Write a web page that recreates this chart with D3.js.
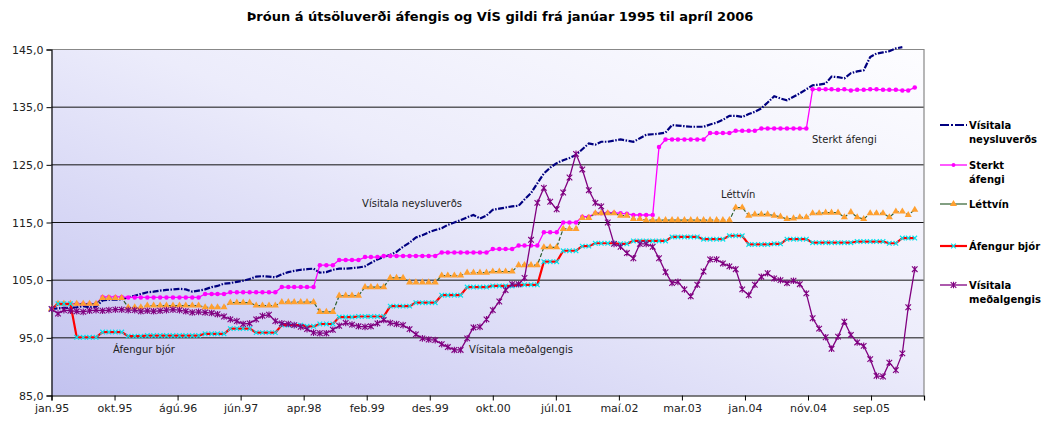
<!DOCTYPE html>
<html>
<head>
<meta charset="utf-8">
<script src="https://cdn.jsdelivr.net/npm/d3@7"></script>
<style>
  body { margin: 0; background: #fff; }
  text { font-family: "DejaVu Sans", Verdana, sans-serif; }
</style>
</head>
<body>
<script>
// Monthly values jan.95 - apr.06 (index 100 = jan.95)
var visitalaNeysluverds = [
  100.0, 100.1, 100.2, 100.2, 100.3, 100.5, 100.3, 100.4, 101.5, 101.6, 101.6, 101.7,
  102.0, 102.3, 102.6, 102.9, 103.0, 103.2, 103.3, 103.4, 103.5, 103.4, 103.0, 103.2,
  103.4, 103.8, 104.0, 104.4, 104.5, 104.7, 104.9, 105.2, 105.6, 105.7, 105.6, 105.5,
  106.0, 106.4, 106.6, 106.8, 106.9, 107.0, 106.3, 106.4, 106.8, 107.0, 107.0, 107.1,
  107.2, 107.4, 108.0, 108.6, 109.0, 109.4, 109.9, 110.8, 111.5, 112.4, 112.8, 113.3,
  113.7, 114.0, 114.6, 115.0, 115.4, 115.9, 116.3, 115.7, 116.2, 117.2, 117.4, 117.6,
  117.8, 117.9, 119.0, 120.1, 121.8, 123.5, 124.5, 125.3, 125.8, 126.2, 126.7, 127.7,
  128.7, 128.5, 129.0, 129.0, 129.2, 129.4, 129.2, 129.0, 129.6, 130.2, 130.3, 130.4,
  130.6, 131.9, 131.8, 131.7, 131.6, 131.6, 131.6, 132.0, 132.3, 132.8, 133.5, 133.5,
  133.3, 133.8, 134.2, 134.8, 135.8, 136.9, 136.5, 136.2, 136.8, 137.4, 138.1, 138.8,
  138.9, 139.1, 140.3, 140.2, 140.0, 140.9, 141.2, 141.4, 143.7, 144.3, 144.5, 144.7,
  145.2, 145.4
];

var sterktAfengi = [
  100.0, 100.9, 100.9, 100.9, 100.9, 100.9, 100.9, 100.9, 102.1, 102.1, 102.1, 102.1,
  102.0, 102.0, 102.0, 102.0, 102.0, 102.0, 102.0, 102.0, 102.0, 102.0, 102.0, 102.0,
  102.6, 102.6, 102.6, 102.6, 102.9, 102.9, 102.9, 102.9, 102.9, 102.9, 102.9, 102.9,
  103.8, 103.8, 103.8, 103.8, 103.8, 103.8, 107.6, 107.6, 107.6, 108.5, 108.5, 108.5,
  108.5, 109.0, 109.0, 109.0, 109.2, 109.2, 109.2, 109.2, 109.2, 109.2, 109.2, 109.2,
  109.2, 109.8, 109.8, 109.8, 109.8, 109.8, 109.8, 109.8, 109.8, 110.4, 110.4, 110.4,
  110.4, 111.0, 111.0, 111.0, 111.0, 113.3, 113.3, 113.3, 115.0, 115.0, 115.0, 116.0,
  116.0, 116.6, 116.6, 116.7, 116.7, 116.6, 116.5, 116.3, 116.3, 116.3, 116.3, 128.1,
  129.4, 129.4, 129.4, 129.4, 129.4, 129.4, 129.4, 130.5, 130.5, 130.5, 130.5, 130.9,
  130.9, 130.9, 130.9, 131.3, 131.3, 131.3, 131.3, 131.3, 131.3, 131.3, 131.3, 138.1,
  138.1, 138.1, 138.1, 138.0, 138.1, 137.9, 138.0, 138.0, 138.1, 138.1, 138.0, 138.0,
  138.0, 137.9, 137.9, 138.4
];

var lettvin = [
  100.0, 100.9, 100.9, 100.9, 100.9, 100.9, 100.9, 100.9, 101.9, 101.9, 101.9, 101.9,
  100.3, 100.3, 100.3, 100.6, 100.6, 100.6, 100.6, 100.6, 100.6, 100.6, 100.6, 100.6,
  100.3, 100.3, 100.3, 100.3, 101.1, 101.1, 101.1, 101.1, 100.6, 100.6, 100.6, 100.6,
  101.2, 101.2, 101.2, 101.2, 101.2, 101.2, 99.5, 99.5, 99.5, 102.3, 102.3, 102.3,
  102.3, 103.8, 103.8, 103.8, 103.8, 105.4, 105.4, 105.4, 104.6, 104.6, 104.6, 104.6,
  104.6, 105.8, 105.8, 105.8, 105.8, 106.3, 106.3, 106.3, 106.3, 106.5, 106.5, 106.5,
  106.5, 107.6, 107.6, 107.6, 107.6, 110.7, 110.7, 110.7, 113.9, 113.9, 113.9, 115.8,
  115.8, 116.6, 116.6, 116.6, 116.6, 116.2, 116.2, 115.6, 115.6, 115.4, 115.4, 115.4,
  115.4, 115.4, 115.4, 115.4, 115.4, 115.4, 115.4, 115.4, 115.4, 115.4, 115.4, 117.6,
  117.6, 116.2, 116.4, 116.4, 116.4, 116.2, 116.0, 115.6, 115.7, 115.9, 115.9, 116.6,
  116.6, 116.7, 116.7, 116.7, 115.9, 116.8, 115.9, 115.6, 116.6, 116.6, 116.6, 115.9,
  116.9, 116.9, 116.3, 117.2
];

var afengurBjor = [
  100.0, 100.9, 100.9, 100.9, 95.1, 95.1, 95.1, 95.1, 96.0, 96.0, 96.0, 96.0,
  95.3, 95.3, 95.3, 95.4, 95.4, 95.4, 95.4, 95.4, 95.4, 95.4, 95.4, 95.4,
  95.7, 95.7, 95.7, 95.7, 96.6, 96.6, 96.6, 96.6, 95.9, 95.9, 95.9, 95.9,
  97.2, 97.2, 97.2, 97.2, 97.0, 97.0, 97.4, 97.4, 97.4, 98.6, 98.6, 98.6,
  98.7, 98.7, 98.7, 98.7, 98.7, 100.5, 100.5, 100.5, 100.5, 101.1, 101.1, 101.1,
  101.1, 102.4, 102.4, 102.4, 102.4, 103.8, 103.8, 103.8, 103.8, 104.0, 104.0, 104.0,
  104.0, 104.2, 104.2, 104.2, 104.2, 108.2, 108.2, 108.2, 110.1, 110.1, 110.1, 110.9,
  110.9, 111.4, 111.4, 111.4, 111.4, 111.3, 111.3, 111.8, 111.8, 111.8, 111.8, 111.8,
  111.8, 112.5, 112.5, 112.5, 112.5, 112.5, 112.1, 112.1, 112.1, 112.1, 112.7, 112.7,
  112.7, 111.2, 111.2, 111.2, 111.2, 111.3, 111.3, 112.1, 112.1, 112.1, 112.1, 111.5,
  111.5, 111.5, 111.5, 111.5, 111.5, 111.5, 111.7, 111.7, 111.7, 111.7, 111.7, 111.4,
  111.4, 112.3, 112.3, 112.3
];

var visitalaMedalgengis = [
  100.0, 99.2, 99.8, 99.7, 99.6, 99.5, 99.7, 99.8, 99.7, 99.8, 99.9, 99.9,
  99.8, 99.8, 99.6, 99.7, 99.6, 99.7, 99.8, 99.9, 99.8, 99.6, 99.4, 99.5,
  99.4, 99.3, 99.1, 98.7, 98.2, 97.9, 97.4, 97.5, 98.2, 98.8, 99.0, 97.9,
  97.5, 97.4, 97.2, 96.9, 96.5, 95.9, 95.8, 95.8, 96.4, 97.1, 97.6, 97.3,
  97.0, 96.9, 97.0, 97.5, 98.1, 97.6, 97.4, 97.2, 96.5, 95.6, 94.9, 94.7,
  94.6, 93.9, 93.4, 92.9, 92.9, 94.9, 96.8, 96.9, 98.2, 99.8, 101.3, 103.3,
  104.3, 104.3, 105.4, 112.0, 118.4, 121.0, 118.6, 117.3, 120.2, 122.8, 126.9, 124.2,
  120.6, 118.4, 117.8, 115.0, 111.3, 110.8, 109.7, 108.8, 111.3, 111.3, 110.8, 108.8,
  106.4, 104.5, 104.7, 103.4, 102.2, 104.2, 106.5, 108.6, 108.6, 107.9, 107.4, 106.9,
  103.4, 102.4, 104.2, 105.6, 106.2, 105.3, 105.0, 104.5, 104.9, 104.3, 102.7, 98.4,
  96.6, 95.1, 93.1, 95.2, 97.8, 95.5, 94.2, 93.6, 91.3, 88.4, 88.3, 90.7,
  89.4, 92.3, 100.3, 106.9
];

var tickLabels = ["jan.95", "okt.95", "ágú.96", "jún.97", "apr.98", "feb.99", "des.99",
  "okt.00", "júl.01", "maí.02", "mar.03", "jan.04", "nóv.04", "sep.05"];
var yTicks = [85, 95, 105, 115, 125, 135, 145];

var seriesNames = [["Vísitala", "neysluverðs"], ["Sterkt", "áfengi"], ["Léttvín"],
  ["Áfengur bjór"], ["Vísitala", "meðalgengis"]];

var annotations = [
  { text: "Vísitala neysluverðs", date: new Date(1999, 0, 18), value: 117.7 },
  { text: "Sterkt áfengi", date: new Date(2004, 10, 28), value: 128.7 },
  { text: "Léttvín", date: new Date(2003, 8, 22), value: 119.3 },
  { text: "Áfengur bjór", date: new Date(1995, 9, 21), value: 92.3 },
  { text: "Vísitala meðalgengis", date: new Date(2000, 5, 10), value: 92.3 }
];

// months on the date axis
var start = new Date(1995, 0, 1);
var months = d3.range(136).map(function (i) { return new Date(1995, i, 1); });

var margin = { top: 49.5, right: 124, bottom: 27.5, left: 51.5 },
    width = 1048 - margin.left - margin.right,
    height = 423 - margin.top - margin.bottom;

var svg = d3.select("body").append("svg")
    .attr("width", 1048)
    .attr("height", 423);

// plot background gradient
var defs = svg.append("defs");
var grad = defs.append("linearGradient")
    .attr("id", "bg")
    .attr("x1", 0).attr("y1", 1).attr("x2", 1).attr("y2", 0);
grad.append("stop").attr("offset", 0).attr("stop-color", "#c2c2ef");
grad.append("stop").attr("offset", 0.55).attr("stop-color", "#ececfb");
grad.append("stop").attr("offset", 1).attr("stop-color", "#fdfdff");

var g = svg.append("g")
    .attr("transform", "translate(" + margin.left + "," + margin.top + ")");

var x = d3.scaleTime().domain([start, new Date(2006, 4, 15)]).range([0, width]);
var y = d3.scaleLinear().domain([85, 145]).range([height, 0]);

g.append("rect")
    .attr("width", width)
    .attr("height", height)
    .attr("fill", "url(#bg)");

// gridlines
g.selectAll(".grid")
    .data(yTicks.filter(function (d) { return d > 85 && d < 145; }))
    .enter().append("line")
    .attr("x1", 0).attr("x2", width)
    .attr("y1", function (d) { return y(d); })
    .attr("y2", function (d) { return y(d); })
    .attr("stroke", "#111")
    .attr("stroke-width", 1);

// border top + right
g.append("path")
    .attr("d", "M0," + y(145) + "H" + width + "V" + height)
    .attr("fill", "none")
    .attr("stroke", "#888")
    .attr("stroke-width", 1.2);

// axes
var fmt = function (d) { return d.toFixed(1).replace(".", ","); };
var yAxis = g.append("g")
    .call(d3.axisLeft(y).tickValues(yTicks).tickFormat(fmt).tickSize(5).tickPadding(3));

var tickDates = tickLabels.map(function (d, i) { return d3.timeDay.offset(start, 300 * i); });
var xAxis = g.append("g")
    .attr("transform", "translate(0," + height + ")")
    .call(d3.axisBottom(x).tickValues(tickDates)
      .tickFormat(function (d, i) { return tickLabels[i]; })
      .tickSize(5).tickPadding(4));

[yAxis, xAxis].forEach(function (a) {
  a.select(".domain").attr("stroke", "#000").attr("stroke-width", 1.2);
  a.selectAll(".tick line").attr("stroke", "#000");
  a.selectAll("text").attr("font-size", "11px").attr("fill", "#222")
    .style("font-family", "'DejaVu Sans', Verdana, sans-serif");
});

var line = d3.line()
    .defined(function (d) { return d != null; })
    .x(function (d, i) { return x(months[i]); })
    .y(function (d) { return y(d); });

var crossPath = "M-2.3,-2.3L2.3,2.3M-2.3,2.3L2.3,-2.3";
var starPath = "M-2.8,-2.8L2.8,2.8M-2.8,2.8L2.8,-2.8M0,-3.3L0,3.3";
var triPath = d3.symbol().type(d3.symbolTriangle).size(22)();

var series = [
  { values: visitalaNeysluverds, color: "#000080", width: 2.2, dash: "6,1.5,1.5,1.5" },
  { values: sterktAfengi, color: "#ff00ff", width: 1.3, marker: "circle", mcolor: "#ff00ff" },
  { values: lettvin, color: "#2f5f2f", width: 1.2, dash: "4,2", marker: "tri", mcolor: "#ffa030" },
  { values: afengurBjor, color: "#ff0000", width: 2.2, marker: "cross", mcolor: "#00e5ee" },
  { values: visitalaMedalgengis, color: "#800080", width: 1.3, marker: "star", mcolor: "#800080" }
];

series.forEach(function (s) {
  g.append("path")
      .datum(s.values)
      .attr("fill", "none")
      .attr("stroke", s.color)
      .attr("stroke-width", s.width)
      .attr("stroke-dasharray", s.dash || null)
      .attr("d", line);

  if (!s.marker) return;
  var pts = g.append("g").selectAll("path")
      .data(s.values)
      .enter().append("path")
      .attr("transform", function (d, i) { return "translate(" + x(months[i]) + "," + y(d) + ")"; });
  if (s.marker === "circle") {
    pts.attr("d", d3.symbol().type(d3.symbolCircle).size(16)()).attr("fill", s.mcolor);
  } else if (s.marker === "tri") {
    pts.attr("d", triPath).attr("fill", s.mcolor);
  } else if (s.marker === "cross") {
    pts.attr("d", crossPath).attr("fill", "none").attr("stroke", s.mcolor).attr("stroke-width", 1.2);
  } else {
    pts.attr("d", starPath).attr("fill", "none").attr("stroke", s.mcolor).attr("stroke-width", 1.1);
  }
});

// annotations
g.selectAll(".ann")
    .data(annotations)
    .enter().append("text")
    .attr("x", function (d) { return x(d.date); })
    .attr("y", function (d) { return y(d.value); })
    .attr("font-size", "10px")
    .attr("fill", "#222")
    .text(function (d) { return d.text; });

// title
svg.append("text")
    .attr("x", 500)
    .attr("y", 21)
    .attr("text-anchor", "middle")
    .attr("font-size", "13px")
    .attr("font-weight", "bold")
    .text("Þróun á útsöluverði áfengis og VÍS gildi frá janúar 1995 til apríl 2006");

// legend
var legendY = [125, 165, 204, 246, 285];
var legend = svg.append("g");
series.forEach(function (s, i) {
  var ly = legendY[i];
  var item = legend.append("g").attr("transform", "translate(940," + ly + ")");
  item.append("line")
      .attr("x1", 0).attr("x2", 27)
      .attr("stroke", s.color)
      .attr("stroke-width", s.width)
      .attr("stroke-dasharray", i === 0 ? "9,2,2,2" : null);
  if (s.marker === "circle") {
    item.append("path").attr("transform", "translate(13.5,0)")
      .attr("d", d3.symbol().type(d3.symbolCircle).size(12)()).attr("fill", s.mcolor);
  } else if (s.marker === "tri") {
    item.append("path").attr("transform", "translate(13.5,0)").attr("d", triPath).attr("fill", s.mcolor);
  } else if (s.marker === "cross") {
    item.append("path").attr("transform", "translate(13.5,0)").attr("d", crossPath)
      .attr("stroke", s.mcolor).attr("stroke-width", 1.2);
  } else if (s.marker === "star") {
    item.append("path").attr("transform", "translate(13.5,0)").attr("d", starPath)
      .attr("stroke", s.mcolor).attr("stroke-width", 1.1);
  }
  var t = item.append("text")
      .attr("x", 29)
      .attr("y", 3.5)
      .attr("font-size", "10px")
      .attr("font-weight", "bold");
  seriesNames[i].forEach(function (n, k) {
    t.append("tspan").attr("x", 29).attr("dy", k === 0 ? 0 : 14).text(n);
  });
});
</script>
</body>
</html>
